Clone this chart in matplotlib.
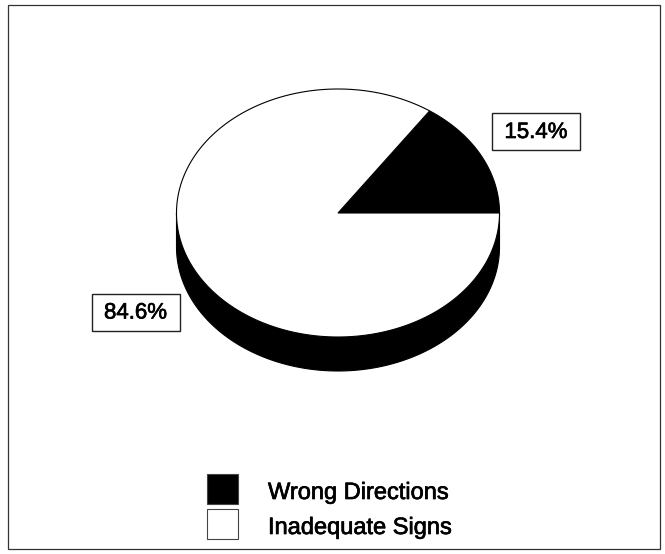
import numpy as np
import matplotlib
matplotlib.use("Agg")
import matplotlib.pyplot as plt
from matplotlib.patches import Polygon, Rectangle
import matplotlib.patheffects as pe

plt.rcParams['font.family'] = ['Liberation Sans', 'DejaVu Sans']

categories = ["Wrong Directions", "Inadequate Signs"]
shares = [15.4, 84.6]
colors = ["black", "white"]
label_text = ["15.4%", "84.6%"]

W, H = 665, 554
fig = plt.figure(figsize=(W / 100, H / 100), dpi=100)
ax = fig.add_axes([0, 0, 1, 1])
ax.set_xlim(0, W)
ax.set_ylim(H, 0)
ax.axis("off")

thick = [pe.withStroke(linewidth=0.5, foreground="black")]

# outer frame
ax.add_patch(Rectangle((8, 5), 652, 544, fill=False, edgecolor="#333333", lw=0.9))

# pie geometry (projected ellipse with depth)
cx, cy = 338, 213
a, b = 161.5, 124
depth = 34


def ell(theta_deg, dy=0.0):
    t = np.radians(theta_deg)
    return np.column_stack([cx + a * np.cos(t), cy - b * np.sin(t) + dy])


# side wall (front half), drawn dark
front = ell(np.linspace(180, 360, 200))
side = np.vstack([front, ell(np.linspace(360, 180, 200), depth)])
ax.add_patch(Polygon(side, closed=True, facecolor="black", edgecolor="black", lw=0.8))

# top face slices, starting at 3 o'clock going counter-clockwise
start = 0.0
for share, col in zip(shares, colors):
    span = share / 100 * 360
    arc = ell(np.linspace(start, start + span, 300))
    pts = np.vstack([[cx, cy], arc])
    ax.add_patch(Polygon(pts, closed=True, facecolor=col, edgecolor="black", lw=0.8))
    start += span

# value labels in boxes
label_pos = [(536, 131.5), (135.5, 312)]
bw, bh = 88, 37
for txt, (x, y) in zip(label_text, label_pos):
    ax.add_patch(Rectangle((x - bw / 2, y - bh / 2), bw, bh, facecolor="white",
                           edgecolor="#222222", lw=1.0))
    ax.text(x, y + 1, txt, fontsize=16, ha="center", va="center", path_effects=thick)

# legend
leg_y = [489, 524]
for cat, col, y in zip(categories, colors, leg_y):
    ax.add_patch(Rectangle((207, y - 15), 31, 30, facecolor=col, edgecolor="#444444", lw=0.8))
    ax.text(268, y + 4, cat, fontsize=17, ha="left", va="center", path_effects=thick)

fig.savefig("out.png", dpi=100)
